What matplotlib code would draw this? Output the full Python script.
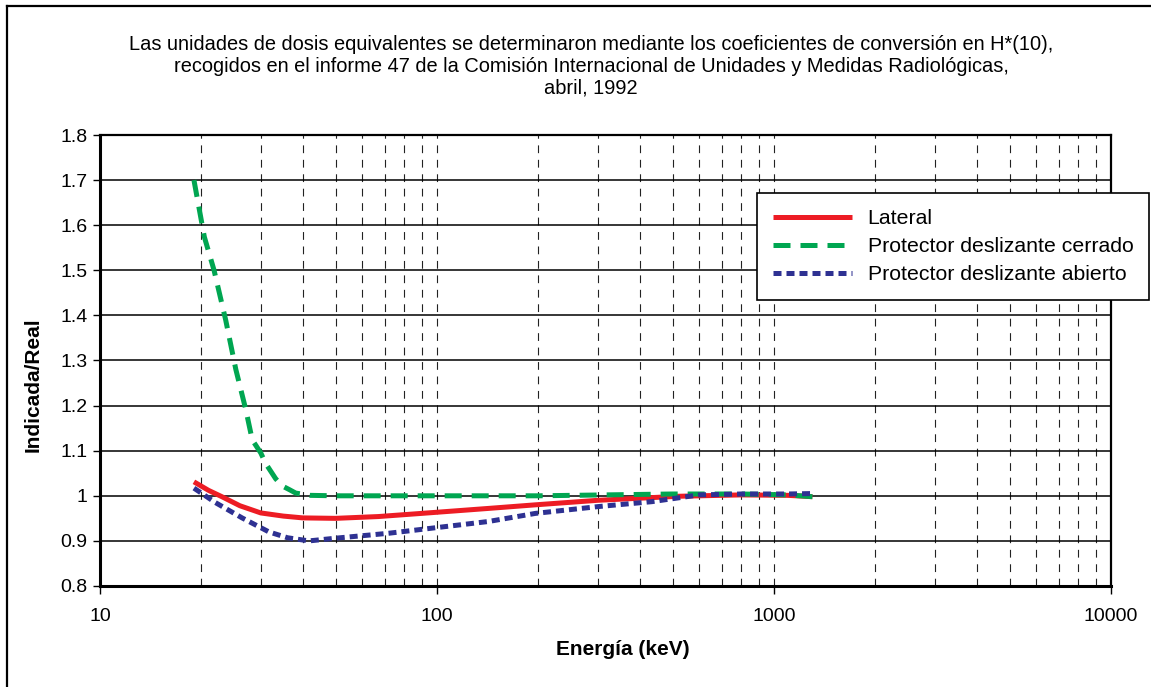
import matplotlib
matplotlib.use("Agg")
import matplotlib.pyplot as plt
from matplotlib.ticker import FixedLocator, FuncFormatter, LogLocator, NullFormatter
from matplotlib.lines import Line2D

plt.rcParams['font.family'] = ['Liberation Sans', 'DejaVu Sans']

title = ("Las unidades de dosis equivalentes se determinaron mediante los coeficientes de conversión en H*(10),\n"
         "recogidos en el informe 47 de la Comisión Internacional de Unidades y Medidas Radiológicas,\n"
         "abril, 1992")

lateral_x = [19, 21, 23, 26, 30, 35, 40, 50, 67, 90, 142, 196, 300, 522, 800, 1100, 1300]
lateral_y = [1.031, 1.012, 0.998, 0.978, 0.962, 0.955, 0.951, 0.950, 0.954, 0.961, 0.972, 0.980, 0.990, 0.999, 1.002, 1.001, 0.998]

cerrado_x = [19, 20.4, 21.8, 23.6, 25.3, 27.1, 28.3, 30, 31, 33.2, 34.7, 36.4, 38.1, 42, 50, 100, 200, 500, 800, 1100, 1300]
cerrado_y = [1.70, 1.574, 1.50, 1.39, 1.28, 1.19, 1.124, 1.095, 1.072, 1.038, 1.022, 1.014, 1.006, 1.001, 1.000, 1.000, 1.000, 1.004, 1.004, 1.002, 0.998]

abierto_x = [19, 22, 26.4, 31.7, 36, 41.7, 50, 72, 142, 196, 300, 434, 599, 800, 1100, 1300]
abierto_y = [1.017, 0.985, 0.951, 0.920, 0.907, 0.900, 0.906, 0.917, 0.943, 0.961, 0.976, 0.987, 1.002, 1.004, 1.004, 1.005]

series_names = ["Lateral", "Protector deslizante cerrado", "Protector deslizante abierto"]
y_ticks = [0.8, 0.9, 1.0, 1.1, 1.2, 1.3, 1.4, 1.5, 1.6, 1.7, 1.8]
x_ticks = [10, 100, 1000, 10000]

fig = plt.figure(figsize=(11.51, 6.87), dpi=100)
W, H = 1151, 687
ax = fig.add_axes([100 / W, 1 - 586 / H, (1111 - 100) / W, (586 - 135) / H])

ax.set_xscale('log')
ax.set_xlim(10, 10000)
ax.set_ylim(0.8, 1.8)

ax.yaxis.set_major_locator(FixedLocator(y_ticks))
ax.yaxis.set_major_formatter(FuncFormatter(lambda v, p: "1" if abs(v - 1) < 1e-9 else f"{v:.1f}"))
ax.xaxis.set_major_locator(FixedLocator(x_ticks))
ax.xaxis.set_major_formatter(FuncFormatter(lambda v, p: f"{int(round(v))}"))
ax.xaxis.set_minor_locator(LogLocator(base=10, subs=range(2, 10)))
ax.xaxis.set_minor_formatter(NullFormatter())

ax.grid(True, axis='y', which='major', color='black', linewidth=1.1, linestyle='-')
ax.grid(True, axis='x', which='both', color='#222222', linewidth=0.8, linestyle=(0, (7, 6)))
ax.set_axisbelow(True)

ax.tick_params(axis='y', which='major', labelsize=14, length=5, width=1, direction='out', pad=4)
ax.tick_params(axis='x', which='major', labelsize=14, length=6, width=1, direction='out', pad=10)
ax.tick_params(axis='x', which='minor', length=0)

for s in ['left', 'bottom']:
    ax.spines[s].set_linewidth(2.2)
for s in ['top', 'right']:
    ax.spines[s].set_linewidth(1.6)

ax.plot(lateral_x, lateral_y, color='#ED1C24', linewidth=3.6, solid_capstyle='butt', label=series_names[0])
ax.plot(cerrado_x, cerrado_y, color='#00A651', linewidth=3.6, linestyle=(0, (3.4, 2.0)), label=series_names[1])
ax.plot(abierto_x, abierto_y, color='#2E3192', linewidth=3.6, linestyle=(0, (1.6, 1.0)), label=series_names[2])

ax.set_xlabel("Energía (keV)", fontsize=15, fontweight='bold')
ax.xaxis.set_label_coords((623 - 100) / 1011, (586 - 640) / 451)
ax.set_ylabel("Indicada/Real", fontsize=15, fontweight='bold')
ax.yaxis.set_label_coords((43 - 100) / 1011, (586 - 385) / 451)

leg = fig.legend(loc='upper left', bbox_to_anchor=(757 / W, 1 - 193 / H), fontsize=15.3,
                 frameon=True, fancybox=False, edgecolor='black', framealpha=1,
                 handlelength=3.7, borderpad=0.75, labelspacing=0.43, handletextpad=0.75,
                 borderaxespad=0)
leg.get_frame().set_linewidth(1.2)

fig.text(591 / W, 1 - 35 / H, title, ha='center', va='top', fontsize=14.4, linespacing=1.18)

# partial figure border (top and left edges visible in the reference)
fig.add_artist(Line2D([7 / W, 7 / W], [0, 1 - 6 / H], transform=fig.transFigure, color='black', linewidth=1.6))
fig.add_artist(Line2D([7 / W, 1], [1 - 6 / H, 1 - 6 / H], transform=fig.transFigure, color='black', linewidth=1.6))

fig.savefig("out.png", dpi=100)
